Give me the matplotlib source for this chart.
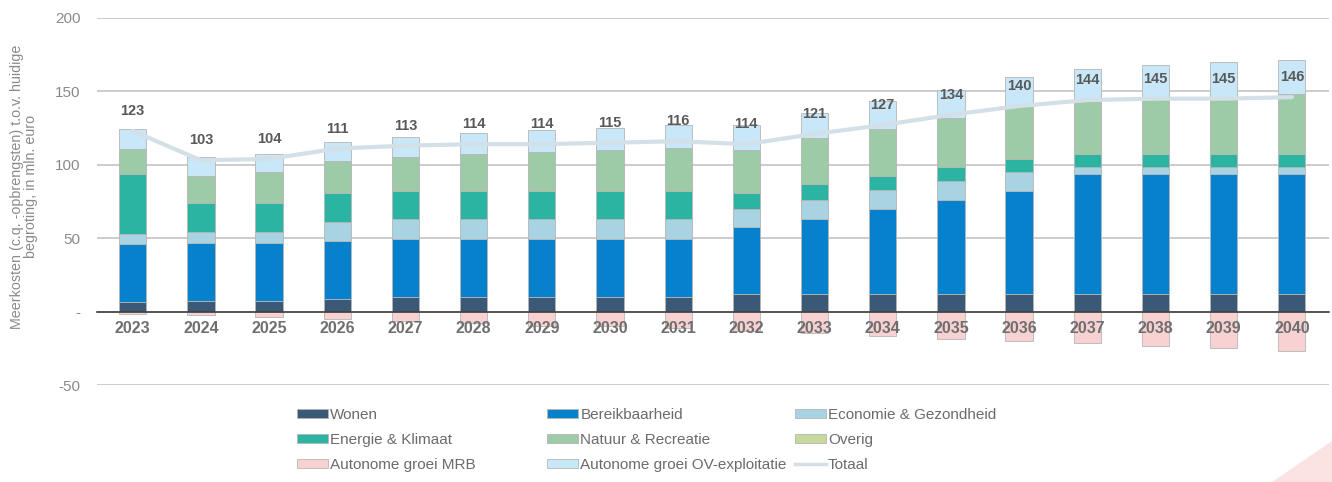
import matplotlib
matplotlib.use('Agg')
import matplotlib.pyplot as plt
import numpy as np
from matplotlib.patches import Patch, Polygon
from matplotlib.lines import Line2D

plt.rcParams['font.family'] = ['Liberation Sans', 'DejaVu Sans']

years = [str(y) for y in range(2023, 2041)]
wonen = [6.4, 7.3, 7.3, 8.6, 10, 10, 10, 10, 10, 12, 12, 12, 12, 12, 12, 12, 12, 12]
bereik = [39.5, 39.7, 39.7, 39.8, 39.5, 39.5, 39.5, 39.5, 39.5, 45.5, 51.4, 58.2, 64.1, 70, 81.6, 81.6, 81.6, 81.6]
economie = [6.8, 7, 7, 12.5, 13.9, 13.9, 13.9, 13.9, 13.9, 12.7, 12.7, 12.8, 12.9, 12.8, 4.8, 4.8, 4.8, 4.8]
energie = [41, 19.9, 19.9, 19.8, 18.6, 18.6, 18.6, 18.6, 18.6, 10.5, 10.7, 9.5, 9.2, 9.3, 9.1, 9.1, 9.1, 9.1]
natuur = [17.3, 18.6, 20.9, 21.8, 23.2, 25.5, 26.4, 28.2, 29.1, 29.3, 31.2, 31.8, 33.6, 35.7, 36.8, 38, 38.4, 40.7]
overig = [0] * 18
ov = [13, 12.5, 12.7, 13, 13.9, 14.1, 15.5, 14.8, 15.9, 17, 17.2, 18.9, 19.3, 19.7, 21.2, 22.2, 24.1, 22.9]
mrb = [-1.5, -2.5, -3.8, -5, -6.1, -7.6, -9.9, -10, -11, -13, -14.2, -16.5, -18.5, -20, -21.3, -23.3, -25, -26.5]
totaal = [123, 103, 104, 111, 113, 114, 114, 115, 116, 114, 121, 127, 134, 140, 144, 145, 145, 146]

series = [
    ('Wonen', wonen, '#3b5877'),
    ('Bereikbaarheid', bereik, '#0681cc'),
    ('Economie & Gezondheid', economie, '#a7d3e3'),
    ('Energie & Klimaat', energie, '#2cb4a2'),
    ('Natuur & Recreatie', natuur, '#9dcaa7'),
    ('Overig', overig, '#c7d99c'),
    ('Autonome groei OV-exploitatie', ov, '#c8e7f9'),
]

fig = plt.figure(figsize=(13.32, 4.82), dpi=100)
ax = fig.add_axes([0.073, 0.201, 0.925, 0.762])

x = np.arange(len(years))
w = 0.4
bottom = np.zeros(len(years))
handles = {}
for name, vals, col in series:
    vals = np.array(vals, dtype=float)
    lw = 0 if name == 'Overig' else 0.6
    ax.bar(x, vals, w, bottom=bottom, color=col, edgecolor='#b5b5b5', linewidth=lw, zorder=3)
    bottom += vals
    handles[name] = Patch(facecolor=col, edgecolor='#b5b5b5', linewidth=0.6)

ax.bar(x, mrb, w, color='#f8d2d2', edgecolor='#b5b5b5', linewidth=0.6, zorder=3)
handles['Autonome groei MRB'] = Patch(facecolor='#f8d2d2', edgecolor='#b5b5b5', linewidth=0.6)

ax.plot(x, totaal, color='#d3e0e8', linewidth=3, zorder=4, solid_capstyle='round')
handles['Totaal'] = Line2D([], [], color='#d3e0e8', linewidth=2.5)

for xi, t in zip(x, totaal):
    ax.annotate(str(t), (xi, t), xytext=(0, 20), textcoords='offset pixels',
                ha='center', va='center', fontsize=10.5, fontweight='bold',
                color='#595959', zorder=5)

ax.set_xlim(-0.52, 17.55)
ax.set_ylim(-50, 200)
ax.set_yticks([200, 150, 100, 50, 0, -50])
ax.set_yticklabels(['200', '150', '100', '50', '-', '-50'])
ax.yaxis.grid(True, color='#c4c4c4', linewidth=1.2, zorder=0)
ax.set_axisbelow(True)
ax.xaxis.set_zorder(6)
for s in ['top', 'right', 'left']:
    ax.spines[s].set_visible(False)
ax.spines['bottom'].set_position(('data', 0))
ax.spines['bottom'].set_color('#404040')
ax.spines['bottom'].set_linewidth(1.2)
ax.spines['bottom'].set_zorder(4)
ax.set_xticks(x)
ax.set_xticklabels(years, fontsize=11.5, fontweight='bold', color='#6f6f6f')
ax.tick_params(axis='x', length=0, pad=7)
ax.tick_params(axis='y', length=0, pad=12, labelsize=11, labelcolor='#8a8a8a')

ax.set_ylabel('Meerkosten (c.q. -opbrengsten) t.o.v. huidige\nbegroting, in mln. euro',
              fontsize=10.3, color='#8a8a8a', linespacing=1.05)
ax.yaxis.set_label_coords(-0.048, 0.54)

columns = [
    (0.223, ['Wonen', 'Energie & Klimaat', 'Autonome groei MRB']),
    (0.411, ['Bereikbaarheid', 'Natuur & Recreatie', 'Autonome groei OV-exploitatie']),
    (0.597, ['Economie & Gezondheid', 'Overig', 'Totaal']),
]
for xpos, names in columns:
    fig.legend([handles[k] for k in names], names, ncol=1, frameon=False,
               loc='upper left', bbox_to_anchor=(xpos, 0.153), borderpad=0,
               borderaxespad=0, fontsize=11, labelcolor='#6b6b6b',
               handlelength=2.0, handleheight=0.5, handletextpad=0.15,
               labelspacing=0.72)

fig.patches.append(Polygon([[0.955, 0.0], [1.0, 0.0], [1.0, 0.085]], closed=True,
                           transform=fig.transFigure, facecolor='#fbe3e3', edgecolor='none'))

fig.savefig('out.png', dpi=100)
